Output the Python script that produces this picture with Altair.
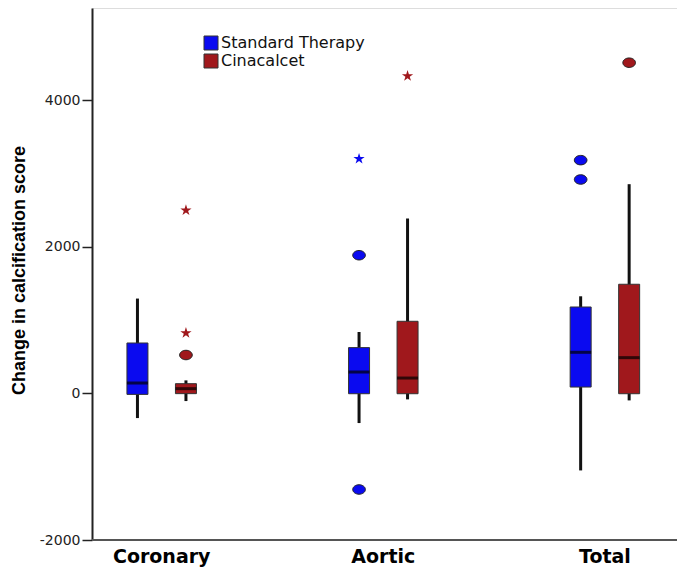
import altair as alt
import pandas as pd

groups = ["Coronary", "Aortic", "Total"]
series = ["Standard Therapy", "Cinacalcet"]
colors = ["#0A0AF0", "#A0181C"]

# box summaries per (group, series)
box_group = ["Coronary", "Coronary", "Aortic", "Aortic", "Total", "Total"]
box_series = ["Standard Therapy", "Cinacalcet"] * 3
whisk_lo = [-337, -105, -405, -82, -1051, -96]
q1 = [-14, -4, -5, -5, 86, -5]
median = [141, 64, 291, 209, 560, 487]
q3 = [687, 132, 624, 983, 1178, 1488]
whisk_hi = [1293, 177, 837, 2385, 1324, 2853]

# outliers (circles)
out_group = ["Coronary", "Aortic", "Aortic", "Total", "Total", "Total"]
out_series = ["Cinacalcet", "Standard Therapy", "Standard Therapy",
              "Standard Therapy", "Standard Therapy", "Cinacalcet"]
out_value = [523, 1884, -1311, 3181, 2917, 4510]

# extremes (stars)
ext_group = ["Coronary", "Coronary", "Aortic", "Aortic"]
ext_series = ["Cinacalcet", "Cinacalcet", "Standard Therapy", "Cinacalcet"]
ext_value = [2498, 823, 3199, 4328]

y_ticks = [-2000, 0, 2000, 4000]

boxes = pd.DataFrame({"group": box_group, "series": box_series, "lo": whisk_lo,
                      "q1": q1, "median": median, "q3": q3, "hi": whisk_hi})
outs = pd.DataFrame({"group": out_group, "series": out_series, "value": out_value})
exts = pd.DataFrame({"group": ext_group, "series": ext_series, "value": ext_value})

W, H = 585, 532
STEP = 221.6
R0 = -41.1

x_enc = alt.X("group:N", sort=groups,
              scale=alt.Scale(domain=groups, range=[R0, R0 + 3 * STEP], paddingInner=0, paddingOuter=0),
              axis=alt.Axis(title=None, domain=False, ticks=False, labelFont="DejaVu Sans",
                            labelFontWeight="bold", labelFontSize=19, labelColor="#000",
                            labelPadding=7, labelAngle=0))
xo_enc = alt.XOffset("series:N", sort=series,
                     scale=alt.Scale(domain=series, range=[STEP / 2 - 48.5, STEP / 2 + 48.5],
                                     paddingInner=0, paddingOuter=0))
y_scale = alt.Scale(domain=[-2000, 5256], nice=False, zero=False)
y_axis = alt.Axis(title="Change in calcification score", values=y_ticks, grid=False,
                  labelExpr="datum.value < 0 ? '-' + abs(datum.value) : '' + datum.value",
                  domainColor="#222", domainWidth=2, tickColor="#222", tickWidth=1.5, tickSize=10,
                  labelFont="DejaVu Sans", labelFontSize=14, labelColor="#222", labelPadding=2,
                  titleFont="Liberation Sans", titleFontSize=18,
                  titleFontWeight="bold", titleColor="#000", titleAngle=-90,
                  titleX=-82, titleY=262, titleBaseline="top", titleAlign="center")
color_scale = alt.Scale(domain=series, range=colors)

base_box = alt.Chart(boxes)

whiskers = base_box.mark_rule(color="#111", strokeWidth=3).encode(
    x=x_enc, xOffset=xo_enc,
    y=alt.Y("lo:Q", scale=y_scale, axis=y_axis), y2="hi:Q")

bars = base_box.mark_bar(size=21, stroke="#333", strokeWidth=1).encode(
    x=x_enc, xOffset=xo_enc,
    y=alt.Y("q1:Q", scale=y_scale), y2="q3:Q",
    color=alt.Color("series:N", scale=color_scale, sort=series,
                    legend=alt.Legend(title=None, orient="none", legendX=111, legendY=27,
                                      symbolType="square", symbolSize=196,
                                      symbolStrokeColor="#333", symbolStrokeWidth=1,
                                      symbolOpacity=1,
                                      labelFont="DejaVu Sans", labelFontSize=16, labelColor="#111",
                                      labelOffset=2, rowPadding=0, padding=0)))

medians = base_box.mark_tick(color="#000", thickness=3, size=21).encode(
    x=x_enc, xOffset=xo_enc, y=alt.Y("median:Q", scale=y_scale))

ellipse = "M -1 0 A 1 0.75 0 1 1 1 0 A 1 0.75 0 1 1 -1 0 Z"
star = ("M0,-1 L0.2245,-0.309 L0.951,-0.309 L0.363,0.118 L0.588,0.809 L0,0.382 "
        "L-0.588,0.809 L-0.363,0.118 L-0.951,-0.309 L-0.2245,-0.309 Z")

circles = alt.Chart(outs).mark_point(shape=ellipse, filled=True, size=160, opacity=1,
                                     stroke="#222", strokeWidth=1).encode(
    x=x_enc, xOffset=xo_enc, y=alt.Y("value:Q", scale=y_scale),
    fill=alt.Fill("series:N", scale=color_scale, legend=None))

stars = alt.Chart(exts).mark_point(shape=star, filled=True, size=140, opacity=1).encode(
    x=x_enc, xOffset=xo_enc, y=alt.Y("value:Q", scale=y_scale),
    fill=alt.Fill("series:N", scale=color_scale, legend=None))

baseline = alt.Chart(pd.DataFrame({"v": [-2000]})).mark_rule(color="#555", strokeWidth=2).encode(
    y=alt.Y("v:Q", scale=y_scale), x=alt.value(0), x2=alt.value(W))

chart = alt.layer(baseline, whiskers, bars, medians, circles, stars).properties(
    width=W, height=H,
    autosize=alt.AutoSizeParams(type="none"),
    padding={"left": 84, "top": 0, "right": 0, "bottom": 28},
).configure_view(stroke=None).configure(background="white")

chart.save("out.html", embed_options={"renderer": "svg", "actions": False})
